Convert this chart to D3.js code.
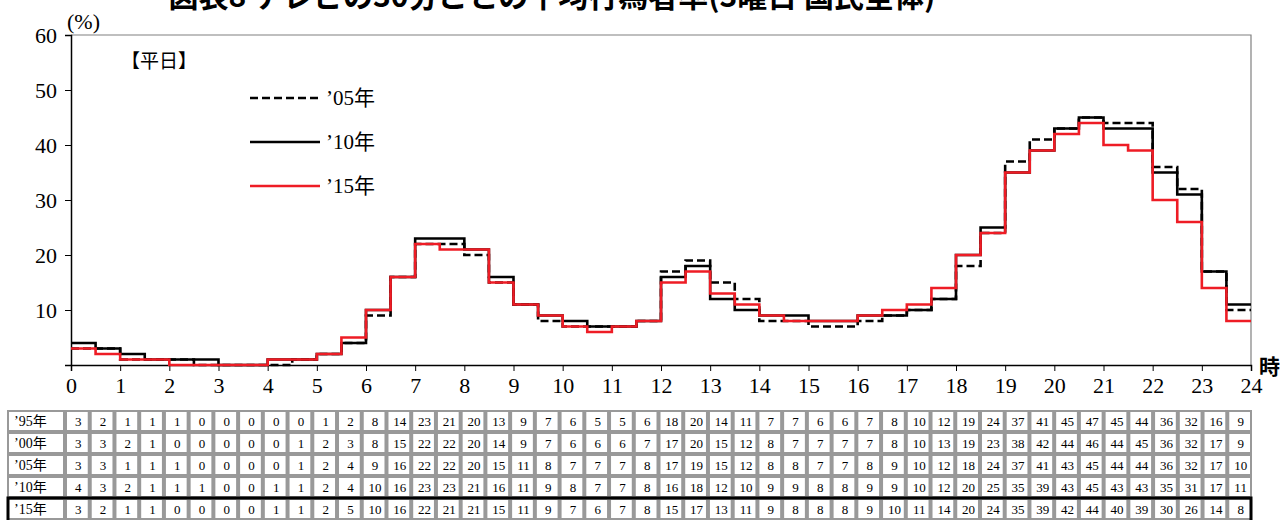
<!DOCTYPE html>
<html><head><meta charset="utf-8">
<script src="https://cdn.jsdelivr.net/npm/d3@7"></script>
<style>
html,body{margin:0;padding:0;background:#fff;}
svg{display:block;}
</style></head>
<body><svg id="c" width="1284" height="520"></svg>
<script>
const title = "図表8 テレビの30分ごとの平均行為者率(3曜日 国民全体)";
const panelLabel = "【平日】";
const yearLabels = ["’95年", "’00年", "’05年", "’10年", "’15年"];
const v95 = [3,2,1,1,1,0,0,0,0,0,1,2,8,14,23,21,20,13,9,7,6,5,5,6,18,20,14,11,7,7,6,6,7,8,10,12,19,24,37,41,45,47,45,44,36,32,16,9];
const v00 = [3,3,2,1,0,0,0,0,0,1,2,3,8,15,22,22,20,14,9,7,6,6,6,7,17,20,15,12,8,7,7,7,7,8,10,13,19,23,38,42,44,46,44,45,36,32,17,9];
const v05 = [3,3,1,1,1,0,0,0,0,1,2,4,9,16,22,22,20,15,11,8,7,7,7,8,17,19,15,12,8,8,7,7,8,9,10,12,18,24,37,41,43,45,44,44,36,32,17,10];
const v10 = [4,3,2,1,1,1,0,0,1,1,2,4,10,16,23,23,21,16,11,9,8,7,7,8,16,18,12,10,9,9,8,8,9,9,10,12,20,25,35,39,43,45,43,43,35,31,17,11];
const v15 = [3,2,1,1,0,0,0,0,1,1,2,5,10,16,22,21,21,15,11,9,7,6,7,8,15,17,13,11,9,8,8,8,9,10,11,14,20,24,35,39,42,44,40,39,30,26,14,8];
const hourTicks = d3.range(0, 25);
const yTicks = [10, 20, 30, 40, 50, 60];
const lineSeries = [
  {name: "’05年", values: v05, color: "#000", dash: "8,4"},
  {name: "’10年", values: v10, color: "#000", dash: null},
  {name: "’15年", values: v15, color: "#ee1c25", dash: null}
];
const tableRows = [v95, v00, v05, v10, v15];

const svg = d3.select("#c");
const serif = "'Liberation Serif','Noto Sans CJK JP',serif";
const jp = "'Noto Sans CJK JP',sans-serif";
const L = 71, R = 1251, T = 35, B = 365;
const x = d3.scaleLinear().domain([0, 24]).range([L, R]);
const y = d3.scaleLinear().domain([0, 60]).range([B, T]);

// title (partly cut at top, as in the reference)
svg.append("text").attr("x", 552).attr("y", 7).attr("text-anchor", "middle")
  .attr("font-family", jp).attr("font-weight", "bold").attr("font-size", 30).text(title);

// frame top/right
svg.append("path").attr("d", `M${L},${T}H${R}V${B}`).attr("fill", "none").attr("stroke", "#808080").attr("stroke-width", 1.2);

// y axis
const ya = svg.append("g").attr("transform", `translate(${L},0)`)
  .call(d3.axisLeft(y).tickValues(yTicks).tickSize(6).tickPadding(8).tickFormat(d3.format("d")));
ya.select(".domain").attr("stroke", "#000").attr("stroke-width", 1.5);
ya.selectAll(".tick line").attr("stroke", "#000");
ya.selectAll("text").attr("font-family", serif).attr("font-size", 22).attr("fill", "#000");

// x axis
const xa = svg.append("g").attr("transform", `translate(0,${B})`)
  .call(d3.axisBottom(x).tickValues(hourTicks).tickSize(6).tickPadding(6).tickFormat(d3.format("d")));
xa.select(".domain").attr("stroke", "#000").attr("stroke-width", 1.5);
xa.selectAll(".tick line").attr("stroke", "#000");
xa.selectAll("text").attr("font-family", serif).attr("font-size", 22).attr("fill", "#000");

svg.append("text").attr("x", 67).attr("y", 29).attr("font-family", serif).attr("font-size", 22).text("(%)");
svg.append("text").attr("x", 1259).attr("y", 374).attr("font-family", jp).attr("font-weight", "bold").attr("font-size", 21).text("時");
svg.append("text").attr("x", 121).attr("y", 68).attr("font-family", jp).attr("font-size", 19).text(panelLabel);

// step lines
const line = d3.line().x(d => x(d[0])).y(d => y(d[1])).curve(d3.curveStepAfter);
lineSeries.forEach(s => {
  const pts = s.values.map((v, i) => [i / 2, v]);
  pts.push([24, s.values[s.values.length - 1]]);
  svg.append("path").datum(pts).attr("d", line).attr("fill", "none")
    .attr("stroke", s.color).attr("stroke-width", 2.6)
    .attr("stroke-dasharray", s.dash);
});

// legend
const legY = [98, 142, 186];
lineSeries.forEach((s, i) => {
  svg.append("line").attr("x1", 250).attr("x2", 320).attr("y1", legY[i]).attr("y2", legY[i])
    .attr("stroke", s.color).attr("stroke-width", 2.6).attr("stroke-dasharray", s.dash);
  svg.append("text").attr("x", 326).attr("y", legY[i] + 7).attr("font-family", serif).attr("font-size", 21).text(s.name);
});

// table
const tL = 7, tC = 65, tR = 1252, tT = 410, rowH = 22;
const cx = d3.scaleBand().domain(d3.range(48)).range([tC, tR]);
svg.append("rect").attr("x", tL).attr("y", tT).attr("width", tR - tL).attr("height", 520 - tT).attr("fill", "#999");
tableRows.forEach((row, r) => {
  const ry = tT + r * rowH;
  const g = svg.append("g");
  g.append("rect").attr("x", tL + 2).attr("y", ry + 2).attr("width", tC - tL - 4).attr("height", rowH - 4).attr("fill", "#fff");
  g.append("text").attr("x", tL + 7).attr("y", ry + rowH / 2 + 5).attr("font-family", serif).attr("font-size", 14).text(yearLabels[r]);
  row.forEach((v, i) => {
    g.append("rect").attr("x", cx(i) + 2).attr("y", ry + 2).attr("width", cx.bandwidth() - 4).attr("height", rowH - 4).attr("fill", "#fff");
    g.append("text").attr("x", cx(i) + cx.bandwidth() / 2 + 1).attr("y", ry + rowH / 2 + 5)
      .attr("text-anchor", "middle").attr("font-family", serif).attr("font-size", 13).text(v);
  });
});
// black border around '15 row
svg.append("path").attr("d", `M${tL + 1},521V${tT + 4 * rowH}H${tR - 1}V521`).attr("fill", "none").attr("stroke", "#000").attr("stroke-width", 3);
</script></body></html>
